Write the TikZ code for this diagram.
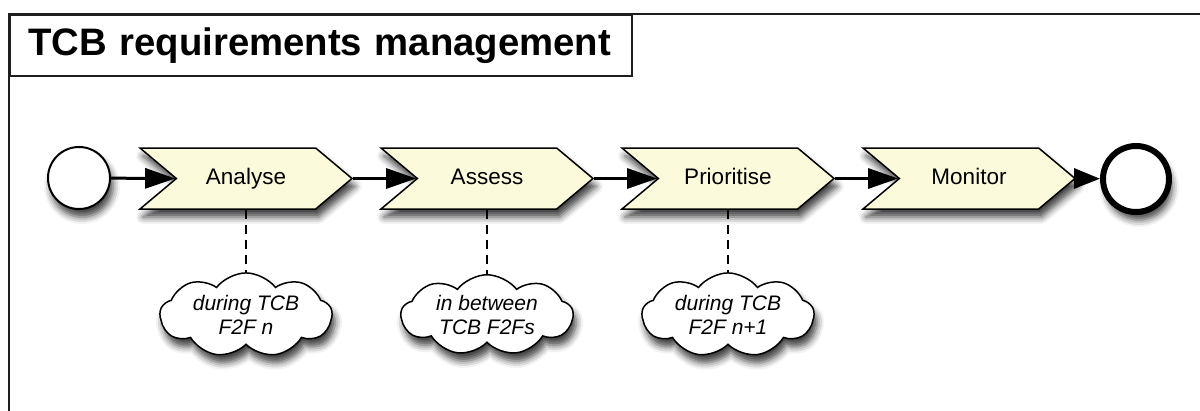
\documentclass[tikz,border=0pt]{standalone}
\usepackage{fontspec}
\setmainfont{Liberation Sans}
\usetikzlibrary{shapes.symbols,arrows.meta,positioning,shadows.blur}

\definecolor{phasefill}{RGB}{251,250,218}
\definecolor{framegray}{RGB}{30,30,30}

\begin{document}
\begin{tikzpicture}[x=1pt,y=-1pt,
    softshadow/.style={blur shadow={shadow xshift=3pt,shadow yshift=-8pt,shadow blur radius=7pt,shadow opacity=75}},
    phase/.style={signal,signal from=west,signal to=east,signal pointer angle=80,
      draw,line width=1.5pt,fill=phasefill,minimum width=212pt,minimum height=61pt,
      inner sep=0pt,text height=16pt,text depth=5pt,font=\fontsize{22.5}{26}\selectfont,softshadow},
    note/.style={cloud,cloud puffs=9,cloud puff arc=105,aspect=2.4,draw,line width=1.5pt,
      fill=white,minimum width=172pt,minimum height=74pt,inner sep=0pt,align=center,
      font=\fontsize{21}{24}\selectfont\itshape,softshadow},
    flow/.style={-{Triangle[length=30pt,width=20pt]},line width=3pt},
    link/.style={line width=2pt,dash pattern=on 9pt off 6pt}]
	  	\useasboundingbox (0,0) rectangle (1200,410);
	  	\clip (0,0) rectangle (1200,410);
	  	% outer frame and title
	  	\draw[line width=2pt,framegray] (9,14) rectangle (1230,440);
	  	\node (title) [draw,line width=2pt,framegray,anchor=north west,minimum width=622pt,minimum height=61pt,
	  	  inner xsep=18pt,text width=586pt,align=left,text=black,font=\fontsize{38.3}{40}\selectfont\bfseries]
	  	  at (9,14) {TCB requirements management};
	  	% start and end
	  	\node (start) [circle,draw,line width=2pt,fill=white,minimum size=62pt,inner sep=0pt,softshadow] at (79,178) {};
	  	\node (stop) [circle,draw,line width=6pt,fill=white,minimum size=66pt,inner sep=0pt,softshadow] at (1136,179) {};
	  	% phases
	  	\node (analyse) [phase] at (246,178.5) {Analyse};
	  	\node (assess) [phase] at (487,178.5) {Assess};
	  	\node (prioritise) [phase] at (728,178.5) {Prioritise};
	  	\node (monitor) [phase] at (969,178.5) {Monitor};
	  	% notes
	  	\node (n1) [note] at (246,315) {during TCB\\F2F \textit{n}};
	  	\node (n2) [note] at (487,315) {in between\\TCB F2Fs};
	  	\node (n3) [note] at (728,315) {during TCB\\F2F \textit{n}+1};
	  	\draw[link] (analyse.south) -- (n1.north);
	  	\draw[link] (assess.south) -- (n2.north);
	  	\draw[link] (prioritise.south) -- (n3.north);
	  	% arrows
	  	\draw[flow] (start) -- (analyse.west);
	  	\draw[flow] (analyse.east) -- (assess.west);
	  	\draw[flow] (assess.east) -- (prioritise.west);
	  	\draw[flow] (prioritise.east) -- (monitor.west);
	  	\draw[-{Triangle[length=26pt,width=20pt]},line width=3pt] (monitor.east) -- (stop);
\end{tikzpicture}
\end{document}
